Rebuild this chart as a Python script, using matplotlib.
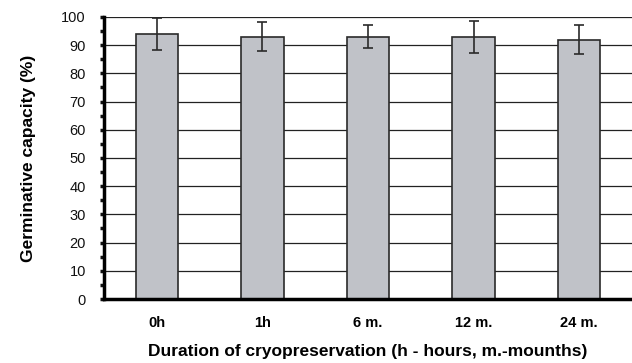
import matplotlib.pyplot as plt
from matplotlib.ticker import MultipleLocator

plt.rcParams['font.family'] = ['Liberation Sans', 'DejaVu Sans']

# Germinative capacity after cryopreservation
durations = ["0h", "1h", "6 m.", "12 m.", "24 m."]
capacity = [94, 93, 93, 93, 92]
error = [5.8, 5.2, 4.0, 5.6, 5.0]

fig = plt.figure(figsize=(6.32, 3.63), dpi=100)
ax = fig.add_axes([0.1646, 0.1763, 0.8354, 0.7769])

x = range(len(durations))
ax.bar(x, capacity, width=0.4, color="#c0c2c8", edgecolor="#2a2a2a",
       linewidth=1.2, zorder=3)
ax.errorbar(x, capacity, yerr=error, fmt="none", ecolor="#2a2a2a",
            elinewidth=1.2, capsize=3.5, capthick=1.2, zorder=4)

ax.set_xlim(-0.5, 4.5)
ax.set_ylim(0, 100)
ax.yaxis.set_major_locator(MultipleLocator(10))
ax.yaxis.set_minor_locator(MultipleLocator(5))
ax.grid(axis="y", color="#222222", linewidth=0.9, zorder=1)

for side in ["top", "right"]:
    ax.spines[side].set_visible(False)
ax.spines["left"].set_linewidth(2.5)
ax.spines["bottom"].set_linewidth(2.5)
ax.spines["left"].set_zorder(5)
ax.spines["bottom"].set_zorder(5)

ax.set_xticks(list(x))
ax.set_xticklabels(durations, fontweight="bold", fontsize=10.5)
ax.tick_params(axis="x", length=0, pad=12)
ax.tick_params(axis="y", which="both", length=3, width=2.5, labelsize=10.5,
               pad=10, colors="#111111")

ax.set_ylabel("Germinative capacity (%)", fontweight="bold", fontsize=12.5,
              labelpad=18)
ax.set_xlabel("Duration of cryopreservation (h - hours, m.-mounths)",
              fontweight="bold", fontsize=12.5, labelpad=10)

fig.savefig("out.png", dpi=100)
